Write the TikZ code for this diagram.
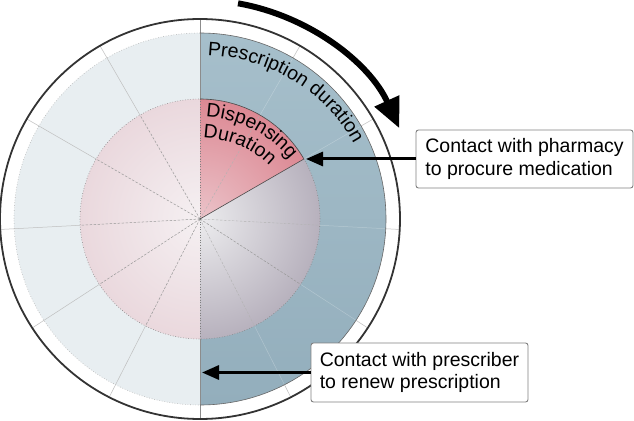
\documentclass[tikz,border=0pt]{standalone}
\usepackage{fontspec}
\setmainfont{Liberation Sans}
\usetikzlibrary{arrows.meta,decorations.text}
\definecolor{ringL}{HTML}{E8EEF1}
\definecolor{blueT}{HTML}{A6BFCB}
\definecolor{blueB}{HTML}{93AEBC}
\definecolor{pinkC}{HTML}{F5F0F2}
\definecolor{pinkO}{HTML}{EAD8DD}
\definecolor{greyC}{HTML}{ECECEE}
\definecolor{greyO}{HTML}{B7B1BD}
\definecolor{secC}{HTML}{EBC3C9}
\definecolor{secO}{HTML}{DC8893}
\definecolor{boxline}{HTML}{808080}
\newcommand\lblfont{\fontsize{19.5}{22.5}\selectfont}
\begin{document}
\begin{tikzpicture}[x=1pt,y=1pt,
  box/.style={draw=boxline,line width=0.9pt,rounded corners=2.5pt,fill=white,
    minimum width=217pt,minimum height=58pt,align=left,inner sep=0pt,font=\lblfont},
  arr/.style={line width=3pt,-{Triangle[length=17pt,width=14pt]}},
  spokein/.style={gray!80,line width=0.5pt,dash pattern=on 2.5pt off 1.5pt},
  spokeinR/.style={gray!60,line width=0.4pt,dash pattern=on 2.5pt off 1.5pt},
  spokeL/.style={black!25,line width=0.5pt},
  spokeR/.style={white,opacity=0.25,line width=0.5pt},
  curvtext/.style={decorate,decoration={text along path,text align=left}}]
\useasboundingbox (-200,-201) rectangle (434,219);
\coordinate (O) at (0,0);
% base disk
\fill[white] (O) circle (200);
% left light ring
\fill[ringL] (0,186) arc[start angle=90,end angle=270,radius=186] -- cycle;
% right blue ring
\begin{scope}
\clip (0,186) arc[start angle=90,end angle=-90,radius=186] -- cycle;
\shade[top color=blueT,bottom color=blueB] (-1,-187) rectangle (187,187);
\end{scope}
% inner left half
\begin{scope}
\clip (0,-121) rectangle (-121,121);
\shade[inner color=pinkC,outer color=pinkO] (O) circle (120);
\end{scope}
% inner right lower part
\begin{scope}
\clip (0,0) -- (0,-125) -- (125,-125) -- (125,72.17) -- cycle;
\shade[inner color=greyC,outer color=greyO] (O) circle (120);
\end{scope}
% dispensing sector
\begin{scope}
\clip (0,0) -- (125,72.17) -- (125,125) -- (0,125) -- cycle;
\shade[inner color=secC,outer color=secO] (O) circle (120);
\end{scope}
% spokes
\foreach \a in {120,150,183,213,243}{
  \draw[spokein] (O) -- (\a:120);
  \draw[spokeL] (\a:120) -- (\a:200);
}
\draw[spokein] (O) -- (327:120);
\foreach \a in {297,357}{
  \draw[spokeinR] (O) -- (\a:120);
}
\foreach \a in {297,327,357,30,60}{
  \draw[spokeR] (\a:120) -- (\a:186);
  \draw[spokeL] (\a:186) -- (\a:200);
}
\draw[spokeinR] (O) -- (60:120);
% vertical divider
\draw[gray,line width=0.6pt,dotted] (0,0) -- (0,120);
\draw[gray,line width=0.6pt,dotted] (0,0) -- (0,-120);
\draw[black!45,line width=0.5pt] (0,120) -- (0,200);
\draw[black!45,line width=0.5pt] (0,-120) -- (0,-200);
% inner circle boundary
\draw[gray,line width=0.6pt,dotted] (O) circle (120);
% ring boundaries
\draw[black!30,line width=0.6pt,dotted] (0,186) arc[start angle=90,end angle=270,radius=186];
\draw[black!60,line width=0.6pt] (0,186) arc[start angle=90,end angle=-90,radius=186];
% sector outline
\draw[black!70,line width=0.6pt] (0,120) arc[start angle=90,end angle=30,radius=120] -- (O);
% outer circle
\draw[black!80,line width=1.8pt] (O) circle (200);
% curved labels
\path[curvtext,decoration={text={|\lblfont|Prescription duration}}]
  (7.5,163.8) arc[start angle=87.5,end angle=0,x radius=173,y radius=164];
\path[curvtext,decoration={text={|\lblfont|Dispensing}}]
  (5.76,101.86) arc[start angle=87,end angle=10,x radius=110,y radius=102];
\path[curvtext,decoration={text={|\lblfont|Duration}}]
  (3.2,80.95) arc[start angle=88,end angle=0,x radius=92,y radius=81];
% big curved arrow
\draw[line width=6pt,-{Triangle[length=30pt,width=26pt]}]
  (80:219) arc[start angle=80,end angle=24.5,radius=219];
% boxes
\node[box] (pharm) at (324.5,60) {Contact with pharmacy\\to procure medication};
\node[box,minimum height=59pt] (presc) at (219.5,-153.5) {Contact with prescriber\\to renew prescription};
\coordinate (ptip) at (106,60);
\coordinate (rtip) at (2,-153.5);
\draw[arr] (pharm.west) -- (ptip);
\draw[arr] (presc.west) -- (rtip);
\end{tikzpicture}
\end{document}
